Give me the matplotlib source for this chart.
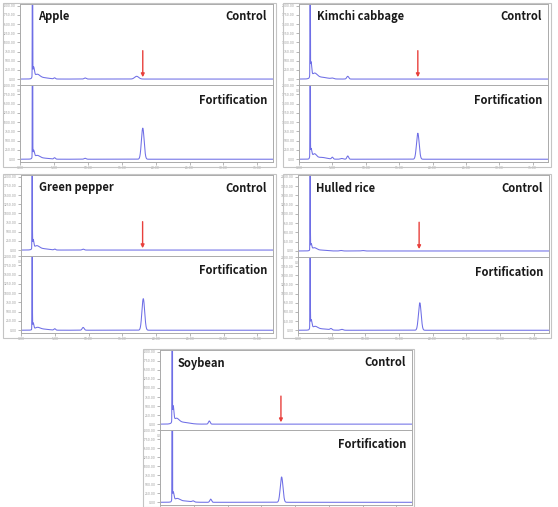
import matplotlib
matplotlib.use("Agg")
import matplotlib.pyplot as plt
import numpy as np
from matplotlib.patches import Rectangle

# ---- data (retention time min, height, width sigma) ----
samples = ["Apple", "Kimchi cabbage", "Green pepper", "Hulled rice", "Soybean"]
solvent_rt = [1.84, 1.67, 1.65, 1.80, 1.80]
target_rt = [18.1, 17.8, 18.0, 18.0, 17.9]

control_peaks = [
    [(2.0, 1.1, 0.12), (2.5, 0.45, 0.4), (3.4, 0.15, 0.8), (5.1, 0.12, 0.12), (9.6, 0.12, 0.15), (17.2, 0.3, 0.3)],
    [(1.8, 1.6, 0.1), (2.3, 0.55, 0.4), (3.3, 0.2, 0.9), (5.0, 0.08, 0.2), (7.3, 0.3, 0.15)],
    [(1.8, 0.95, 0.1), (2.3, 0.4, 0.4), (3.2, 0.15, 0.8), (5.0, 0.1, 0.12), (9.2, 0.1, 0.15)],
    [(1.95, 0.65, 0.1), (2.4, 0.3, 0.35), (3.3, 0.1, 0.8), (6.4, 0.05, 0.2), (9.6, 0.05, 0.2)],
    [(1.95, 1.7, 0.1), (2.4, 0.55, 0.4), (3.4, 0.2, 0.9), (7.3, 0.35, 0.13)],
]
fort_peaks = [
    [(2.0, 0.8, 0.12), (2.5, 0.35, 0.4), (3.4, 0.12, 0.8), (5.1, 0.15, 0.12), (9.6, 0.1, 0.15), (18.1, 3.35, 0.2)],
    [(1.8, 1.0, 0.12), (2.3, 0.5, 0.3), (3.3, 0.2, 0.8), (5.0, 0.2, 0.12), (6.4, 0.08, 0.2), (7.3, 0.35, 0.13), (17.8, 2.8, 0.2)],
    [(1.8, 0.7, 0.1), (2.4, 0.25, 0.4), (3.3, 0.12, 0.8), (5.0, 0.15, 0.12), (9.2, 0.3, 0.15), (18.1, 3.4, 0.2)],
    [(1.95, 1.0, 0.12), (2.5, 0.35, 0.4), (3.5, 0.15, 0.9), (4.9, 0.15, 0.15), (6.5, 0.1, 0.2), (18.1, 3.0, 0.2)],
    [(1.95, 1.0, 0.12), (2.5, 0.35, 0.4), (3.5, 0.15, 0.9), (4.9, 0.12, 0.15), (7.5, 0.35, 0.13), (18.0, 2.8, 0.2)],
]

# ---- layout in pixels: frame (l, t, r, b), axes (l, r, top, divider, bottom) ----
W, H = 558, 507
frames = [(3, 3, 276, 167), (283, 3, 551, 167), (3, 174, 276, 338), (283, 174, 551, 338), (143, 349, 414, 507)]
axes_px = [(20, 273, 4, 85, 162), (299, 548, 4, 85, 162), (21, 273, 175, 256, 333),
           (298, 549, 175, 257, 333), (160, 412, 350, 430, 505)]

fig = plt.figure(figsize=(W / 100, H / 100), dpi=100)
fig.patch.set_facecolor("white")

t = np.arange(0, 37.3, 0.005)
line_col = "#6e6ee6"
label_font = ["Noto Sans CJK KR", "DejaVu Sans"]


def trace(rt0, peaks):
    y = 60 * np.exp(-0.5 * ((t - rt0) / 0.02) ** 2)
    for rt, h, s in peaks:
        y = y + h * np.exp(-0.5 * ((t - rt) / s) ** 2)
    return y


def style(ax, ylim, xlabels=True):
    ax.set_xlim(0, 37.3)
    ax.set_ylim(*ylim)
    ax.set_xticks(np.arange(0, 37, 5))
    ax.set_yticks(np.arange(0, 8.1, 1))
    ax.set_xticklabels([f"{v:.2f}" for v in np.arange(0, 37, 5)] if xlabels else [])
    ax.set_yticklabels([f"{v * 250:.2f}" for v in range(9)])
    ax.tick_params(labelsize=2.2, colors="#999999", length=2, width=0.5, pad=1)
    for sp in ax.spines.values():
        sp.set_color("#aaaaaa")
        sp.set_linewidth(0.7)


for i, name in enumerate(samples):
    fl, ft, fr, fb = frames[i]
    fig.patches.append(Rectangle((fl / W, 1 - fb / H), (fr - fl) / W, (fb - ft) / H,
                                 transform=fig.transFigure, fill=False,
                                 edgecolor="#c4c4c4", linewidth=0.8))
    al, ar, at, ad, ab = axes_px[i]
    ax1 = fig.add_axes([al / W, 1 - ad / H, (ar - al) / W, (ad - at) / H])
    ax2 = fig.add_axes([al / W, 1 - ab / H, (ar - al) / W, (ab - ad) / H])

    ax1.plot(t, trace(solvent_rt[i], control_peaks[i]), color=line_col, lw=0.75)
    ax2.plot(t, trace(solvent_rt[i], fort_peaks[i]), color=line_col, lw=0.75)
    style(ax1, (-0.65, 8.2))
    style(ax2, (-0.3, 7.7), xlabels=(i < 4))

    ax1.annotate("", xy=(target_rt[i], 0.2), xytext=(target_rt[i], 3.1),
                 arrowprops=dict(arrowstyle="-|>", color="#e8403c", lw=1.0,
                                 mutation_scale=5, shrinkA=0, shrinkB=0))

    kw = dict(fontsize=8, family=label_font, weight="bold", color="#1a1a1a", va="center")
    ax1.text(18 / (ar - al), 1 - 13 / (ad - at), name, transform=ax1.transAxes, ha="left", **kw)
    ax1.text(1 - 6 / (ar - al), 1 - 13 / (ad - at), "Control", transform=ax1.transAxes, ha="right", **kw)
    ax2.text(1 - 6 / (ar - al), 1 - 15 / (ab - ad), "Fortification", transform=ax2.transAxes, ha="right", **kw)

fig.savefig("out.png", dpi=100)
